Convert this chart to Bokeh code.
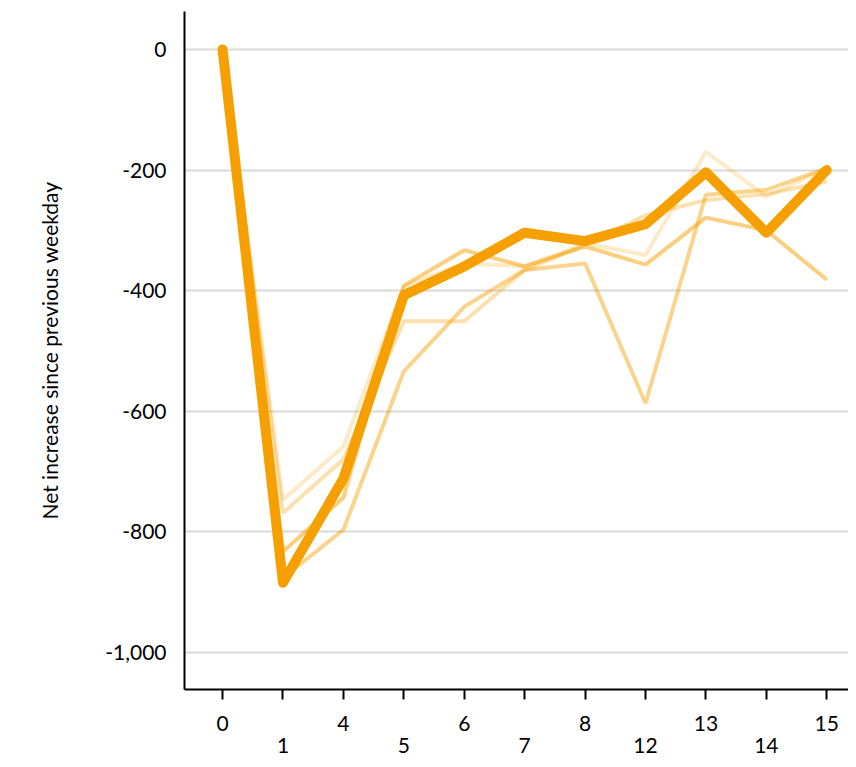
from bokeh.plotting import figure
from bokeh.models import LinearAxis, Range1d, FixedTicker
from bokeh.embed import file_html
from bokeh.resources import INLINE

days = ["0", "1", "4", "5", "6", "7", "8", "12", "13", "14", "15"]

main = [0, -885, -712, -408, -360, -304, -318, -290, -204, -304, -200]
line_a = [0, -877, -797, -534, -427, -366, -355, -587, -241, -233, -197]
line_b = [0, -833, -744, -392, -333, -360, -327, -357, -279, -300, -382]
line_c = [0, -747, -659, -393, -355, -360, -322, -341, -170, -244, -197]
line_d = [0, -769, -680, -451, -451, -366, -324, -275, -250, -240, -219]

orange = "#F5A000"
font = "Lato"
xs = list(range(len(days)))

p = figure(width=848, height=759, output_backend="svg",
           toolbar_location=None, min_border_left=184, min_border_top=11,
           min_border_right=0, min_border_bottom=0)
p.x_range = Range1d(-0.63, 10.36)
p.y_range = Range1d(-1062, 63)
p.outline_line_color = None
p.xgrid.grid_line_color = None
p.ygrid.grid_line_color = "#d9d9d9"
p.ygrid.grid_line_width = 2
p.ygrid.ticker = FixedTicker(ticks=[-1000, -800, -600, -400, -200, 0])

for vals, a in [(line_c, 0.22), (line_d, 0.32), (line_a, 0.45), (line_b, 0.5)]:
    p.line(xs, vals, line_color=orange, line_alpha=a, line_width=4)
p.line(xs, main, line_color=orange, line_width=10, line_join="round", line_cap="round")

p.yaxis.ticker = FixedTicker(ticks=[-1000, -800, -600, -400, -200, 0])
p.yaxis.major_label_overrides = {-1000: "-1,000", -800: "-800", -600: "-600",
                                 -400: "-400", -200: "-200", 0: "0"}
p.yaxis.major_tick_line_color = None
p.yaxis.minor_tick_line_color = None
p.yaxis.axis_line_width = 2
p.yaxis.axis_label = "Net increase since previous weekday"
ya = p.yaxis[0]
ya.major_label_text_font = font
ya.major_label_text_font_size = "21px"
ya.major_label_text_color = "black"
ya.axis_label_text_font = font
ya.axis_label_text_font_size = "21px"
ya.axis_label_text_color = "black"
ya.axis_label_text_font_style = "normal"
ya.axis_label_standoff = 40
ya.major_label_standoff = 12

xa = p.xaxis[0]
xa.ticker = FixedTicker(ticks=xs)
xa.minor_tick_line_color = None
xa.axis_line_width = 2
xa.major_tick_line_width = 2
xa.major_tick_in = 0
xa.major_tick_out = 10
xa.major_label_standoff = 10
xa.major_label_text_font = font
xa.major_label_text_font_size = "21px"
xa.major_label_text_color = "black"
xa.major_label_overrides = {i: (" " if i % 2 else d) for i, d in enumerate(days)}

xb = LinearAxis(ticker=FixedTicker(ticks=xs), axis_line_color=None,
                major_tick_line_color=None, minor_tick_line_color=None,
                major_label_text_font=font, major_label_text_font_size="21px",
                major_label_text_color="black", major_label_standoff=-12)
xb.major_label_overrides = {i: (d if i % 2 else " ") for i, d in enumerate(days)}
p.add_layout(xb, "below")

open("out.html", "w").write(file_html(p, INLINE))
